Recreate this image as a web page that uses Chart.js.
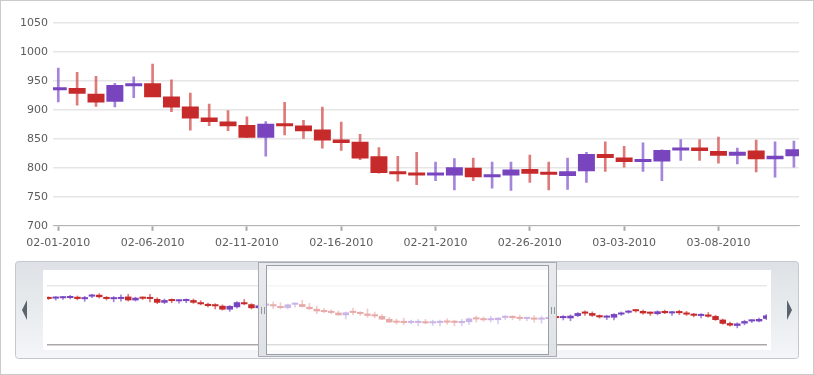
<!DOCTYPE html>
<html>
<head>
<meta charset="utf-8">
<script src="https://cdn.jsdelivr.net/npm/chart.js@4.4.1/dist/chart.umd.min.js"></script>
<style>
  html, body { margin: 0; padding: 0; background: #fff; }
  #frame { position: relative; width: 814px; height: 375px; box-sizing: border-box; border: 1px solid #cacaca; overflow: hidden; }
  #mainChart { position: absolute; left: -1px; top: -1px; }
  #navChart { position: absolute; left: 14px; top: 259px; }
</style>
</head>
<body>
<div id="frame">
  <canvas id="mainChart" width="814" height="256"></canvas>
  <canvas id="navChart" width="785" height="100"></canvas>
</div>
<script>
// daily prices, first day = 01-02-2010
const opens  = [1000, 993, 996, 998, 1008, 988, 1010, 1025, 1003, 988,
                990, 1010, 978, 1000, 995, 990, 958, 980, 970, 972,
                980, 962, 948, 935, 932, 900, 920, 962, 945, 912,
                934, 938, 928, 914, 941, 946, 923, 906, 887, 880,
                874, 852, 876, 873, 866, 849, 845, 820, 792, 791,
                787, 787, 800, 784, 787, 798, 790, 786, 794, 824,
                818, 810, 811, 830, 835, 829, 821, 830, 815, 820,
                832, 828, 826, 846, 872, 870, 850, 832, 832, 858,
                874, 890, 888, 870, 862, 888, 868, 876, 872, 862,
                846, 858, 845, 815, 785, 762, 782, 800, 800, 822];
const highs  = [1008, 1010, 1012, 1020, 1015, 1012, 1030, 1035, 1010, 1010,
                1025, 1030, 1005, 1008, 1030, 1000, 990, 990, 985, 990,
                990, 975, 955, 950, 940, 935, 968, 985, 950, 945,
                972, 965, 958, 946, 957, 979, 952, 929, 910, 899,
                888, 880, 913, 882, 905, 879, 858, 835, 820, 827,
                810, 816, 817, 810, 810, 822, 810, 817, 827, 845,
                837, 843, 831, 849, 849, 853, 834, 848, 845, 846,
                838, 850, 855, 875, 890, 880, 855, 850, 866, 880,
                892, 900, 895, 880, 890, 895, 885, 895, 885, 868,
                865, 875, 852, 820, 795, 788, 810, 815, 828, 858];
const lows   = [985, 980, 985, 990, 982, 969, 1000, 998, 980, 965,
                972, 972, 972, 985, 965, 950, 950, 958, 955, 958,
                952, 940, 922, 905, 895, 885, 912, 940, 905, 905,
                914, 908, 906, 905, 921, 923, 897, 865, 873, 864,
                852, 820, 857, 851, 834, 830, 814, 791, 777, 771,
                778, 762, 778, 765, 761, 775, 762, 763, 775, 794,
                801, 794, 778, 813, 813, 808, 807, 793, 784, 801,
                822, 812, 805, 840, 850, 842, 828, 815, 812, 850,
                868, 878, 862, 850, 855, 865, 850, 858, 850, 838,
                830, 835, 808, 775, 760, 745, 770, 790, 795, 815];
const closes = [990, 997, 1000, 1012, 990, 1005, 1018, 1005, 990, 992,
                998, 978, 1000, 992, 990, 958, 980, 972, 976, 978,
                958, 945, 930, 928, 900, 930, 962, 945, 912, 935,
                938, 928, 913, 943, 945, 922, 904, 885, 879, 872,
                852, 876, 872, 863, 847, 843, 816, 791, 789, 787,
                791, 801, 784, 788, 797, 790, 788, 794, 824, 817,
                810, 812, 831, 835, 829, 821, 828, 815, 821, 832,
                828, 832, 848, 870, 866, 848, 835, 838, 862, 875,
                888, 886, 868, 865, 885, 870, 874, 870, 858, 848,
                852, 840, 812, 780, 765, 782, 802, 806, 820, 850];

function pad(n) { return n < 10 ? '0' + n : '' + n; }
const dates = opens.map((o, i) => {
    const d = new Date(2010, 0, 2 + i);
    return pad(d.getMonth() + 1) + '-' + pad(d.getDate()) + '-' + d.getFullYear();
});

// visible window of the main chart (day index) and the navigator range
const viewMin = 29.72, viewMax = 69.27;
const navMin = -0.2, navMax = 99.1;
const yMainMin = 700, yMainMax = 1050, yMainStep = 50;
const navGrid = [600, 1100];
const tickStep = 5;
const tickAnchor = dates.indexOf('02-01-2010');

const RED = '#c62a2a', PURPLE = '#7845bf';
const WICK_RED = 'rgba(210, 70, 70, 0.72)', WICK_PURPLE = 'rgba(130, 85, 205, 0.72)';
const FONT = { family: 'DejaVu Sans', size: 11 };
const LABEL = '#5c5c5c';

function candleSets(bodyPct, wickWidth, minLen) {
    const up = opens.map((o, i) => closes[i] >= o);
    return [{
        label: 'wick',
        data: dates.map((d, i) => ({ x: i, y: [lows[i], highs[i]] })),
        backgroundColor: up.map(u => u ? WICK_PURPLE : WICK_RED),
        barThickness: wickWidth,
        grouped: false,
        order: 2
    }, {
        label: 'body',
        data: dates.map((d, i) => ({ x: i, y: [opens[i], closes[i]] })),
        backgroundColor: up.map(u => u ? PURPLE : RED),
        barPercentage: bodyPct,
        categoryPercentage: 1,
        minBarLength: minLen,
        grouped: false,
        order: 1
    }];
}

new Chart(document.getElementById('mainChart').getContext('2d'), {
    type: 'bar',
    data: { datasets: candleSets(0.9, 2, 3) },
    options: {
        responsive: false,
        animation: false,
        layout: { padding: { left: 20, right: 15, top: 23, bottom: 0 } },
        plugins: { legend: { display: false }, tooltip: { enabled: false } },
        scales: {
            x: {
                type: 'linear',
                min: viewMin,
                max: viewMax,
                offset: false,
                afterBuildTicks: s => {
                    s.ticks = dates.map((d, i) => i)
                        .filter(i => i >= s.min && i <= s.max && (i - tickAnchor) % tickStep === 0)
                        .map(v => ({ value: v }));
                },
                ticks: { callback: v => dates[v], color: LABEL, font: FONT, maxRotation: 0, autoSkip: false, padding: 6 },
                grid: { offset: false, drawOnChartArea: false, drawTicks: true, tickLength: 5, tickColor: '#a8a8a8', tickWidth: 2 },
                border: { color: '#b5b5b5', width: 1 }
            },
            y: {
                min: yMainMin,
                max: yMainMax,
                afterFit: s => { s.width = 33; },
                ticks: { stepSize: yMainStep, callback: v => String(v), color: LABEL, font: FONT, padding: 5 },
                grid: { color: '#e6e6e6', lineWidth: 1.5, drawTicks: false },
                border: { display: false }
            }
        }
    }
});

function roundRect(c, x, y, w, h, r) {
    c.beginPath();
    c.moveTo(x + r, y);
    c.lineTo(x + w - r, y);
    c.quadraticCurveTo(x + w, y, x + w, y + r);
    c.lineTo(x + w, y + h - r);
    c.quadraticCurveTo(x + w, y + h, x + w - r, y + h);
    c.lineTo(x + r, y + h);
    c.quadraticCurveTo(x, y + h, x, y + h - r);
    c.lineTo(x, y + r);
    c.quadraticCurveTo(x, y, x + r, y);
    c.closePath();
}

// grey frame, white plot box and scroll arrows of the navigator
const navPanel = {
    id: 'navPanel',
    beforeDraw(chart) {
        const c = chart.ctx, a = chart.chartArea;
        const W = chart.width, H = chart.height;
        c.save();
        const g = c.createLinearGradient(0, 0, 0, H);
        g.addColorStop(0, '#dde1e5');
        g.addColorStop(1, '#f4f6f8');
        roundRect(c, 0.5, 1.5, W - 2, H - 3, 3);
        c.fillStyle = g;
        c.fill();
        c.strokeStyle = '#c3c8ce';
        c.lineWidth = 1;
        c.stroke();
        c.fillStyle = '#ffffff';
        c.fillRect(a.left - 4, a.top, a.right - a.left + 8, a.bottom - a.top + 5);
        c.fillStyle = '#5a646f';
        const mid = H / 2;
        c.beginPath();
        c.moveTo(7, mid); c.lineTo(12, mid - 10); c.lineTo(12, mid + 10); c.closePath();
        c.fill();
        c.beginPath();
        c.moveTo(W - 8, mid); c.lineTo(W - 13, mid - 10); c.lineTo(W - 13, mid + 10); c.closePath();
        c.fill();
        c.restore();
    }
};

// selection window showing the range of the main chart
const navWindow = {
    id: 'navWindow',
    afterDatasetsDraw(chart) {
        const c = chart.ctx, xs = chart.scales.x;
        const il = Math.round(xs.getPixelForValue(viewMin)) + 2.5;
        const ir = Math.round(xs.getPixelForValue(viewMax)) - 2.5;
        const ol = il - 8, or = ir + 8;
        const it = 5.5, ib = 94.5, ot = 2.5, ob = 96.5;
        c.save();
        c.fillStyle = 'rgba(255, 255, 255, 0.6)';
        c.fillRect(il, it, ir - il, ib - it);
        c.beginPath();
        c.rect(ol, ot, or - ol, ob - ot);
        c.rect(il, it, ir - il, ib - it);
        const g = c.createLinearGradient(0, ot, 0, ob);
        g.addColorStop(0, 'rgba(232, 234, 237, 0.97)');
        g.addColorStop(1, 'rgba(222, 225, 229, 0.97)');
        c.fillStyle = g;
        c.fill('evenodd');
        c.lineWidth = 1;
        c.strokeStyle = '#a8adb3';
        c.strokeRect(ol, ot, or - ol, ob - ot);
        c.strokeStyle = '#9a9fa5';
        c.strokeRect(il, it, ir - il, ib - it);
        c.strokeStyle = '#9097a0';
        const gy = Math.round((it + ib) / 2) - 3;
        [(ol + il) / 2, (ir + or) / 2].forEach(cx => {
            const x0 = Math.round(cx) - 1.5;
            c.beginPath();
            c.moveTo(x0, gy); c.lineTo(x0, gy + 7);
            c.moveTo(x0 + 3, gy); c.lineTo(x0 + 3, gy + 7);
            c.stroke();
        });
        c.restore();
    }
};

new Chart(document.getElementById('navChart').getContext('2d'), {
    type: 'bar',
    data: { datasets: candleSets(0.9, 1, 2) },
    options: {
        responsive: false,
        animation: false,
        layout: { padding: { left: 32, right: 33, top: 10, bottom: 15 } },
        plugins: { legend: { display: false }, tooltip: { enabled: false } },
        scales: {
            x: { type: 'linear', display: false, min: navMin, max: navMax, offset: false },
            y: {
                min: 600,
                max: 1235,
                afterBuildTicks: s => { s.ticks = navGrid.map(v => ({ value: v })); },
                ticks: { display: false },
                grid: {
                    drawTicks: false,
                    color: ctx => ctx.tick && ctx.tick.value === navGrid[0] ? '#a9a9a9' : '#e8e8e8',
                    lineWidth: 1.5
                },
                border: { display: false }
            }
        }
    },
    plugins: [navPanel, navWindow]
});
</script>
</body>
</html>
